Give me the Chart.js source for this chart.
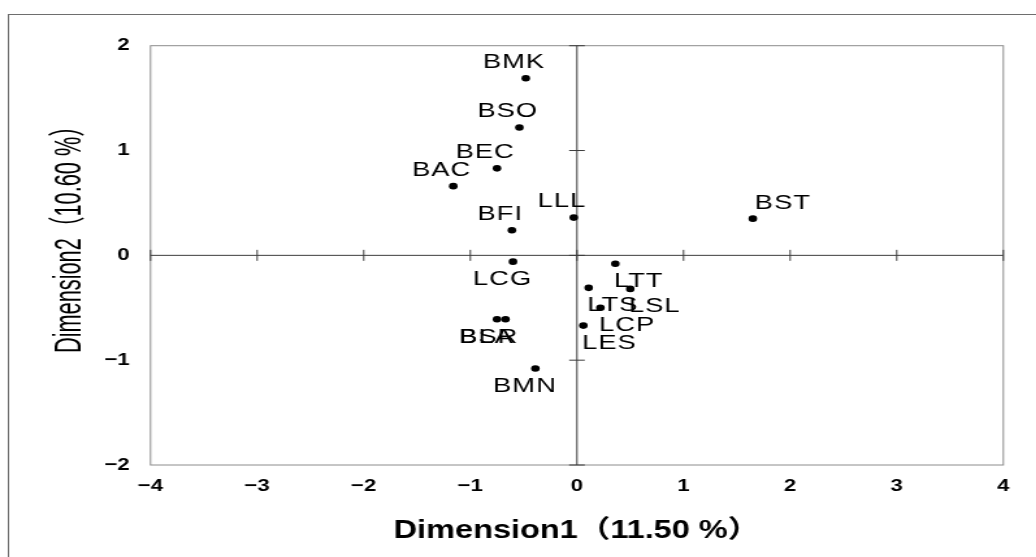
<!DOCTYPE html>
<html>
<head>
<meta charset="utf-8">
<script src="https://cdn.jsdelivr.net/npm/chart.js@4.4.1/dist/chart.umd.min.js"></script>
<style>
  html, body { margin: 0; padding: 0; background: #fff; overflow: hidden; }
  /* the source picture is stretched sideways, so the canvas is drawn narrow and widened */
  #plot { display: block; transform: scaleX(1.3); transform-origin: 0 0; }
</style>
</head>
<body>
<canvas id="plot" width="797" height="557"></canvas>
<script>
const pointNames = ['BMK', 'BSO', 'BEC', 'BAC', 'BFI', 'LLL', 'BST', 'LCG', 'BLA', 'BSR', 'BMN', 'LTT', 'LTS', 'LSL', 'LCP', 'LES']
const dim1 = [-0.48, -0.54, -0.75, -1.16, -0.61, -0.03, 1.65, -0.60, -0.75, -0.67, -0.39, 0.36, 0.11, 0.50, 0.22, 0.06]
const dim2 = [1.69, 1.22, 0.83, 0.66, 0.24, 0.36, 0.35, -0.06, -0.61, -0.61, -1.08, -0.08, -0.31, -0.32, -0.50, -0.67]
const xTickLabels = ['−4', '−3', '−2', '−1', '0', '1', '2', '3', '4']
const yTickLabels = ['−2', '−1', '0', '1', '2']
const xTitle = 'Dimension1（11.50 %）'
const yTitle = 'Dimension2（10.60 %）'

// where each name sits next to its dot
const labelPlace = ['above', 'above', 'above', 'above', 'above', 'above', 'aboveRight', 'below',
  'below', 'belowLeft', 'below', 'belowRight', 'belowRight', 'belowRight', 'belowRight', 'belowRight']
const placeStyle = {
  above: { align: 'center', dx: -9, dy: -16 },
  below: { align: 'center', dx: -8, dy: 18 },
  belowLeft: { align: 'center', dx: -13, dy: 18 },
  belowRight: { align: 'left', dx: -1, dy: 17.5 },
  aboveRight: { align: 'left', dx: 1.5, dy: -15.5 }
}

const FONT = "'Liberation Sans', Arial, 'Noto Sans CJK JP', sans-serif"

const frame = {
  id: 'frame',
  beforeDraw(chart) {
    const ctx = chart.ctx
    ctx.save()
    ctx.fillStyle = '#fff'
    ctx.fillRect(0, 0, chart.width, chart.height)
    ctx.strokeStyle = '#6e6e6e'
    ctx.lineWidth = 1
    ctx.strokeRect(6.5, 14.5, chart.width + 20, chart.height + 20)
    ctx.restore()
  },
  beforeDatasetsDraw(chart) {
    const { ctx, chartArea: a, scales: { x, y } } = chart
    ctx.save()
    ctx.strokeStyle = '#8c8c8c'
    ctx.lineWidth = 1
    ctx.strokeRect(a.left, a.top, a.right - a.left, a.bottom - a.top)

    const x0 = x.getPixelForValue(0)
    const y0 = y.getPixelForValue(0)
    ctx.strokeStyle = '#3c3c3c'
    ctx.beginPath()
    ctx.moveTo(a.left, y0)
    ctx.lineTo(a.right, y0)
    ctx.moveTo(x0, a.top)
    ctx.lineTo(x0, a.bottom)
    x.ticks.forEach(t => {
      const px = x.getPixelForValue(t.value)
      ctx.moveTo(px, y0 - 5.5)
      ctx.lineTo(px, y0 + 5.5)
    })
    y.ticks.forEach(t => {
      const py = y.getPixelForValue(t.value)
      ctx.moveTo(x0 - 6, py)
      ctx.lineTo(x0 + 6, py)
    })
    ctx.stroke()
    ctx.restore()
  },
  afterDatasetsDraw(chart) {
    const ctx = chart.ctx
    const meta = chart.getDatasetMeta(0)
    ctx.save()
    ctx.font = '21px ' + FONT
    ctx.letterSpacing = '0.8px'
    ctx.fillStyle = '#000'
    ctx.textBaseline = 'middle'
    meta.data.forEach((pt, i) => {
      const p = placeStyle[labelPlace[i]]
      ctx.textAlign = p.align
      ctx.fillText(pointNames[i], pt.x + p.dx, pt.y + p.dy)
    })
    ctx.restore()
  },
  afterDraw(chart) {
    // y title: narrow along its length, like the source
    const ctx = chart.ctx
    ctx.save()
    ctx.translate(61.5, 234)
    ctx.rotate(-Math.PI / 2)
    ctx.scale(0.75, 1)
    ctx.font = '29px ' + FONT
    ctx.fillStyle = '#000'
    ctx.textAlign = 'center'
    ctx.textBaseline = 'alphabetic'
    ctx.fillText(yTitle, 0, 0)
    ctx.restore()
  }
}

new Chart(document.getElementById('plot'), {
  type: 'scatter',
  data: {
    datasets: [{
      data: dim1.map((v, i) => ({ x: v, y: dim2[i] })),
      pointRadius: 3.3,
      pointBackgroundColor: '#000',
      pointBorderWidth: 0
    }]
  },
  options: {
    responsive: false,
    devicePixelRatio: 1,
    animation: false,
    layout: { padding: { top: 45.7, right: 25.2, left: 0, bottom: 0 } },
    plugins: {
      legend: { display: false },
      tooltip: { enabled: false }
    },
    scales: {
      x: {
        type: 'linear',
        min: -4,
        max: 4,
        afterFit: s => { s.height = 92 },
        grid: { display: false, drawTicks: false },
        border: { display: false },
        ticks: {
          stepSize: 1,
          padding: 11,
          color: '#000',
          font: { family: FONT, size: 17, weight: 'bold' },
          callback: (v, i) => xTickLabels[i]
        },
        title: {
          display: true,
          text: xTitle,
          color: '#000',
          padding: { top: 0, bottom: 11 },
          font: { family: FONT, size: 25, weight: 'bold' }
        }
      },
      y: {
        type: 'linear',
        min: -2,
        max: 2,
        afterFit: s => { s.width = 115.8 },
        grid: { display: false, drawTicks: false },
        border: { display: false },
        ticks: {
          stepSize: 1,
          padding: 16,
          color: '#000',
          font: { family: FONT, size: 17, weight: 'bold' },
          callback: (v, i) => yTickLabels[i]
        },
        title: { display: false, text: yTitle }
      }
    }
  },
  plugins: [frame]
})
</script>
</body>
</html>
